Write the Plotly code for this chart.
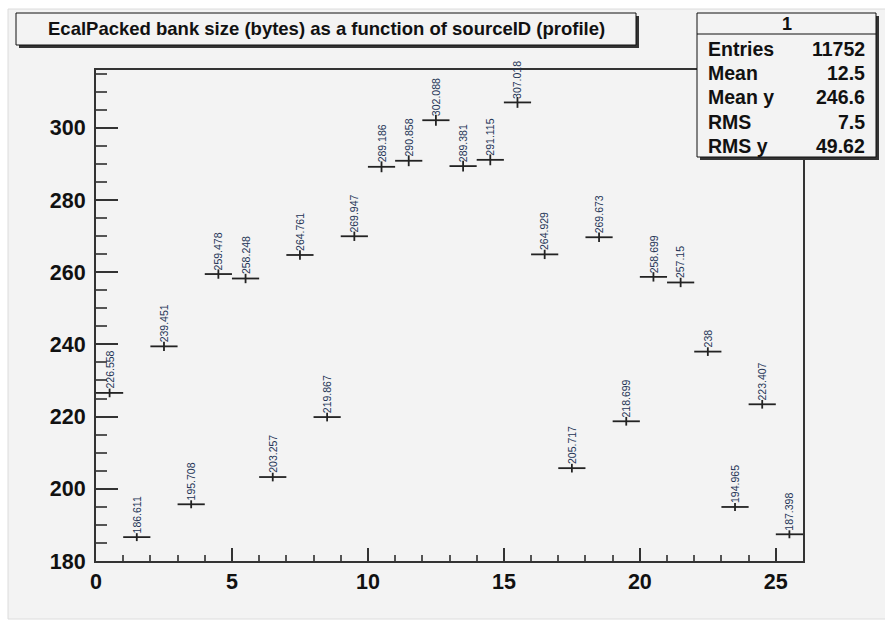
import plotly.graph_objects as go

# Profile of EcalPacked bank size per sourceID (26 bins, width 1)
source_id = list(range(26))
mean_size = [226.558, 186.611, 239.451, 195.708, 259.478, 258.248, 203.257,
             264.761, 219.867, 269.947, 289.186, 290.858, 302.088, 289.381,
             291.115, 307.018, 264.929, 205.717, 269.673, 218.699, 258.699,
             257.15, 238, 194.965, 223.407, 187.398]
size_err = [1.2, 1.1, 1.3, 1.1, 1.3, 1.3, 1.2, 1.3, 1.2, 1.3, 1.5, 1.5, 1.5,
            1.5, 1.5, 1.5, 1.3, 1.2, 1.3, 1.2, 1.3, 1.3, 1.2, 1.1, 1.2, 1.1]

title_text = "EcalPacked bank size (bytes) as a function of sourceID (profile)"
stats_name = "1"
stats_labels = ["Entries", "Mean", "Mean y", "RMS", "RMS y"]
stats_values = ["11752", "12.5", "246.6", "7.5", "49.62"]

W, H = 885, 621
ML, MR, MT, MB = 96, 82, 70, 60
PW, PH = W - ML - MR, H - MT - MB

def px(x):
    return (x - ML) / PW

def py(y):
    return (H - MB - y) / PH

canvas = "#f3f3f3"
ink = "#222222"

bin_center = [i + 0.5 for i in source_id]

fig = go.Figure()
fig.add_trace(go.Scatter(
    x=bin_center, y=mean_size, mode="markers",
    marker=dict(size=1, color=ink, opacity=0),
    error_x=dict(type="constant", value=0.5, width=0, thickness=1.8, color=ink),
    error_y=dict(type="data", array=size_err, width=0, thickness=1.8, color=ink),
    showlegend=False, hoverinfo="x+y",
))

annotations = []
for xc, v in zip(bin_center, mean_size):
    annotations.append(dict(
        x=xc, y=v, xref="x", yref="y", text=f"{v:g}", showarrow=False,
        textangle=-90, xanchor="center", yanchor="bottom", yshift=2,
        font=dict(family="Liberation Sans", size=10.5, color="#243456"),
    ))

shapes = []
# canvas background
shapes.append(dict(type="rect", xref="paper", yref="paper", layer="below",
                   x0=px(8), x1=px(W + 5), y0=py(H - 2), y1=py(9),
                   fillcolor=canvas, line=dict(color="#dcdcdc", width=1)))

def boxed(x0, y0, x1, y1):
    # drop shadow then the box itself
    shapes.append(dict(type="rect", xref="paper", yref="paper",
                       x0=px(x0 + 3), x1=px(x1 + 3), y0=py(y1 + 3), y1=py(y0 + 3),
                       fillcolor="#333333", line=dict(width=0)))
    shapes.append(dict(type="rect", xref="paper", yref="paper",
                       x0=px(x0), x1=px(x1), y0=py(y1), y1=py(y0),
                       fillcolor=canvas, line=dict(color="#111111", width=1)))

boxed(16, 13, 636, 45)
annotations.append(dict(x=px(326), y=py(29), xref="paper", yref="paper",
                        text=title_text, showarrow=False, xanchor="center",
                        yanchor="middle",
                        font=dict(family="Liberation Sans", size=18.5,
                                  color="#111111", weight="bold")))

boxed(697, 13, 876, 157)
shapes.append(dict(type="line", xref="paper", yref="paper",
                   x0=px(697), x1=px(876), y0=py(34), y1=py(34),
                   line=dict(color="#111111", width=1)))
annotations.append(dict(x=px(787), y=py(24), xref="paper", yref="paper",
                        text=stats_name, showarrow=False, xanchor="center",
                        yanchor="middle",
                        font=dict(family="Liberation Sans", size=18,
                                  color="#111111", weight="bold")))
row_y = [49, 73, 97, 122, 146]
for ry, lab, val in zip(row_y, stats_labels, stats_values):
    annotations.append(dict(x=px(706), y=py(ry), xref="paper", yref="paper",
                            text=lab, showarrow=False, xanchor="left",
                            yanchor="middle",
                            font=dict(family="Liberation Sans", size=19.5,
                                      color="#111111", weight="bold")))
    annotations.append(dict(x=px(867), y=py(ry), xref="paper", yref="paper",
                            text=val, showarrow=False, xanchor="right",
                            yanchor="middle",
                            font=dict(family="Liberation Sans", size=19.5,
                                      color="#111111", weight="bold")))

tickfont = dict(family="Liberation Sans", size=21.5, color="#111111", weight="bold")

fig.update_layout(
    width=W, height=H,
    margin=dict(l=ML, r=MR, t=MT, b=MB, pad=0),
    paper_bgcolor="white", plot_bgcolor=canvas,
    shapes=shapes, annotations=annotations,
    xaxis=dict(range=[0, 26], dtick=5, tick0=0, ticks="inside", ticklen=13,
               tickwidth=2, tickcolor="#333333", showgrid=False, zeroline=False,
               showline=True, linecolor="#333333", linewidth=2, mirror=True,
               tickfont=tickfont,
               minor=dict(dtick=1, ticks="inside", ticklen=6, tickwidth=2,
                          tickcolor="#555555", showgrid=False)),
    yaxis=dict(range=[180, 316], dtick=20, tick0=180, ticks="inside", ticklen=22,
               tickwidth=2, tickcolor="#333333", showgrid=False, zeroline=False,
               showline=True, linecolor="#333333", linewidth=2, mirror=True,
               tickfont=tickfont, ticklabelstandoff=4,
               minor=dict(dtick=5, ticks="inside", ticklen=11, tickwidth=2,
                          tickcolor="#555555", showgrid=False)),
)

fig.write_html("out.html")
